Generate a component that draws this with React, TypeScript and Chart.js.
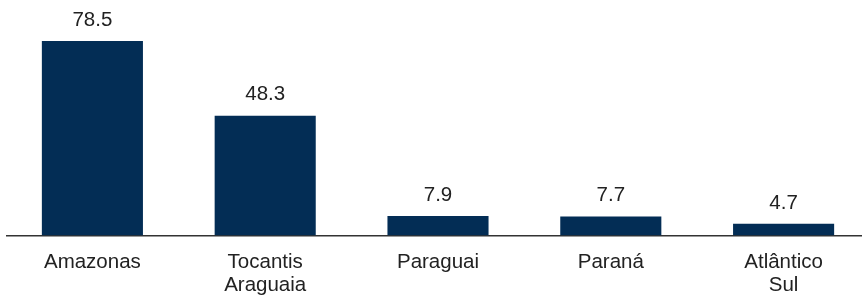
import React, { useEffect, useRef } from "react";
import { Chart, registerables } from "chart.js";

Chart.register(...registerables);

const categories: (string | string[])[] = [
  "Amazonas",
  ["Tocantis", "Araguaia"],
  "Paraguai",
  "Paraná",
  ["Atlântico", "Sul"],
];
const values: number[] = [78.5, 48.3, 7.9, 7.7, 4.7];
const valueLabels: string[] = ["78.5", "48.3", "7.9", "7.7", "4.7"];

const FONT = "Arial, 'Liberation Sans', Helvetica, sans-serif";

const valueLabelPlugin = {
  id: "valueLabels",
  afterDatasetsDraw(chart: any) {
    const ctx = chart.ctx;
    const meta = chart.getDatasetMeta(0);
    ctx.save();
    ctx.font = `20.5px ${FONT}`;
    ctx.fillStyle = "#222222";
    ctx.textAlign = "center";
    ctx.textBaseline = "middle";
    meta.data.forEach((bar: any, i: number) => {
      ctx.fillText(valueLabels[i], bar.x, bar.y - 21);
    });
    ctx.restore();
  },
};

export default function App() {
  const ref = useRef<HTMLCanvasElement>(null);
  useEffect(() => {
    if (!ref.current) return;
    const chart = new Chart(ref.current, {
      type: "bar",
      data: {
        labels: categories,
        datasets: [
          {
            data: values,
            backgroundColor: "#032d55",
            borderWidth: 0,
            categoryPercentage: 1,
            barPercentage: 0.585,
          },
        ],
      },
      options: {
        animation: false,
        responsive: false,
        maintainAspectRatio: false,
        layout: { padding: 0 },
        plugins: {
          legend: { display: false },
          tooltip: { enabled: false },
          title: { display: false },
        },
        scales: {
          x: {
            grid: { display: false, drawTicks: false },
            border: { display: true, color: "#333333", width: 1.5 },
            ticks: {
              color: "#222222",
              font: { family: FONT, size: 20.5, lineHeight: 1.13 },
              padding: 15,
              maxRotation: 0,
              autoSkip: false,
            },
            afterFit: (s: any) => {
              s.height = 60.5;
            },
          },
          y: {
            display: false,
            min: 0,
            max: 95,
          },
        },
      },
      plugins: [valueLabelPlugin],
    });
    return () => chart.destroy();
  }, []);
  return (
    <div
      style={{
        position: "fixed",
        left: 0,
        top: 0,
        width: 862,
        height: 296,
        overflow: "hidden",
        background: "#ffffff",
      }}
    >
      <canvas
        ref={ref}
        width={864}
        height={296}
        style={{ position: "absolute", left: 6, top: 0, width: 864, height: 296 }}
      />
    </div>
  );
}
